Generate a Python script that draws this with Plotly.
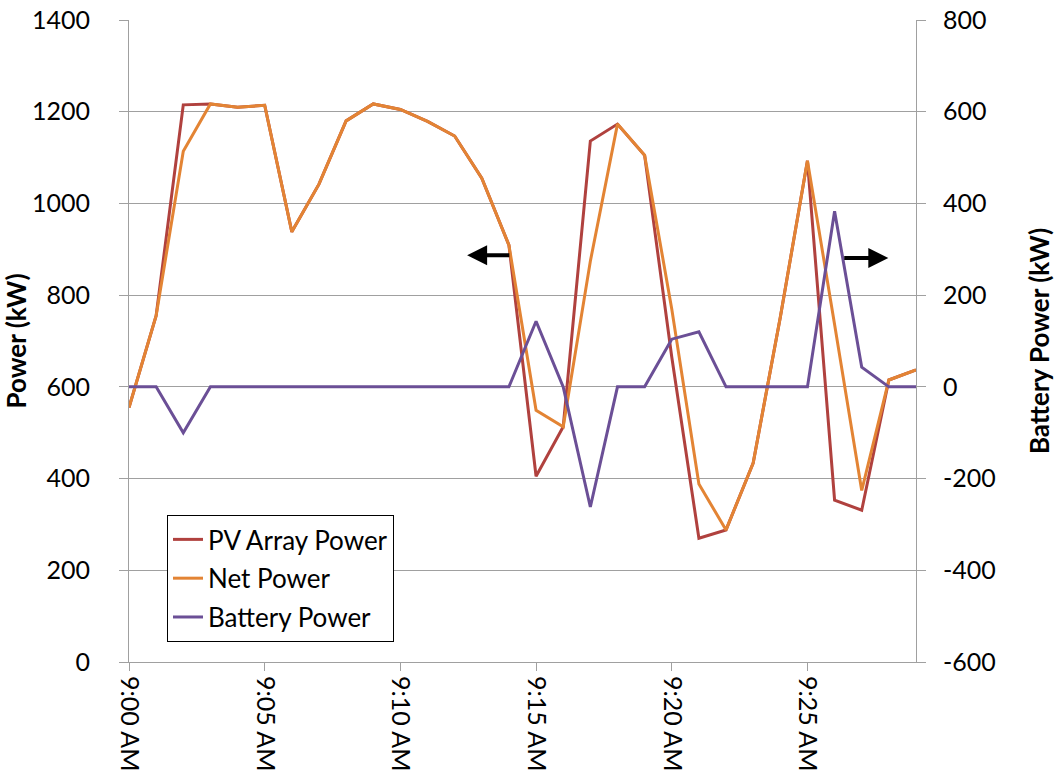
import plotly.graph_objects as go

times = ["9:%02d AM" % m for m in range(30)]
pv_power = [555, 755, 1215, 1217, 1210, 1214, 938, 1042, 1180, 1217,
            1205, 1179, 1147, 1055, 909, 405, 513, 1136, 1173, 1105,
            665, 270, 288, 434, 752, 1093, 353, 331, 615, 637]
battery_power = [0, 0, -100, 0, 0, 0, 0, 0, 0, 0,
                 0, 0, 0, 0, 0, 143, 0, -262, 0, 0,
                 104, 120, 0, 0, 0, 0, 383, 43, 0, 0]
net_power = [555, 755, 1114, 1217, 1210, 1214, 938, 1042, 1180, 1217,
             1205, 1179, 1147, 1055, 909, 549, 513, 874, 1173, 1105,
             770, 388, 288, 434, 752, 1093, 736, 374, 615, 637]
tick_labels = ["9:00 AM", "9:05 AM", "9:10 AM", "9:15 AM", "9:20 AM", "9:25 AM"]
left_ticks = [0, 200, 400, 600, 800, 1000, 1200, 1400]
right_ticks = [-600, -400, -200, 0, 200, 400, 600, 800]
right_tick_text = ["-600", "-400", "-200", "0", "200", "400", "600", "800"]

FONT = "Lato"
GRID = "#A0A0A0"

fig = go.Figure()
fig.add_trace(go.Scatter(x=times, y=pv_power, name="PV Array Power", mode="lines",
                         legendgroup="a", line=dict(color="#B0413E", width=3)))
fig.add_trace(go.Scatter(x=times, y=net_power, name="Net Power", mode="lines",
                         legendgroup="b", line=dict(color="#E38434", width=3)))
fig.add_trace(go.Scatter(x=times, y=battery_power, name="Battery Power", mode="lines",
                         legendgroup="c", line=dict(color="#6B4F96", width=3),
                         yaxis="y2"))

fig.update_layout(
    width=1056, height=781,
    margin=dict(l=129, r=140, t=20, b=119),
    paper_bgcolor="white", plot_bgcolor="white",
    font=dict(family=FONT, size=25, color="black"),
    xaxis=dict(type="category", categoryorder="array", categoryarray=times,
               range=[0, 29], tickmode="array", tickvals=tick_labels,
               ticktext=tick_labels, tickangle=90, showgrid=False,
               showline=True, linecolor=GRID, linewidth=1,
               ticks="outside", ticklen=8, tickcolor=GRID,
               tickfont=dict(size=25), zeroline=False, automargin=False),
    yaxis=dict(range=[0, 1400], tickvals=left_ticks, showgrid=True,
               gridcolor=GRID, gridwidth=1, showline=True, linecolor=GRID,
               ticks="outside", ticklen=9, tickcolor=GRID, zeroline=False,
               ticklabelstandoff=24, automargin=False,
               title=dict(text="<b>Power (kW)</b>", font=dict(size=26), standoff=4)),
    yaxis2=dict(range=[-600, 800], tickvals=right_ticks, ticktext=right_tick_text,
                overlaying="y", side="right", showgrid=False, showline=True,
                linecolor=GRID, ticks="outside", ticklen=9, tickcolor=GRID,
                zeroline=False, ticklabelstandoff=12, automargin=False,
                title=dict(text="<b>Battery Power (kW)</b>", font=dict(size=26), standoff=36)),
    legend=dict(x=0.0483, y=0.229, xanchor="left", yanchor="top",
                bordercolor="black", borderwidth=1, bgcolor="white",
                font=dict(size=26), tracegroupgap=2, itemwidth=30),
    showlegend=True,
)

fig.add_annotation(x=12.46, y=887, ax=14.07, ay=887, xref="x", yref="y",
                   axref="x", ayref="y", showarrow=True, arrowhead=2,
                   arrowsize=1, arrowwidth=4, arrowcolor="black", text="")
fig.add_annotation(x=27.98, y=881, ax=26.3, ay=881, xref="x", yref="y",
                   axref="x", ayref="y", showarrow=True, arrowhead=2,
                   arrowsize=1, arrowwidth=4, arrowcolor="black", text="")

fig.write_html("out.html")
